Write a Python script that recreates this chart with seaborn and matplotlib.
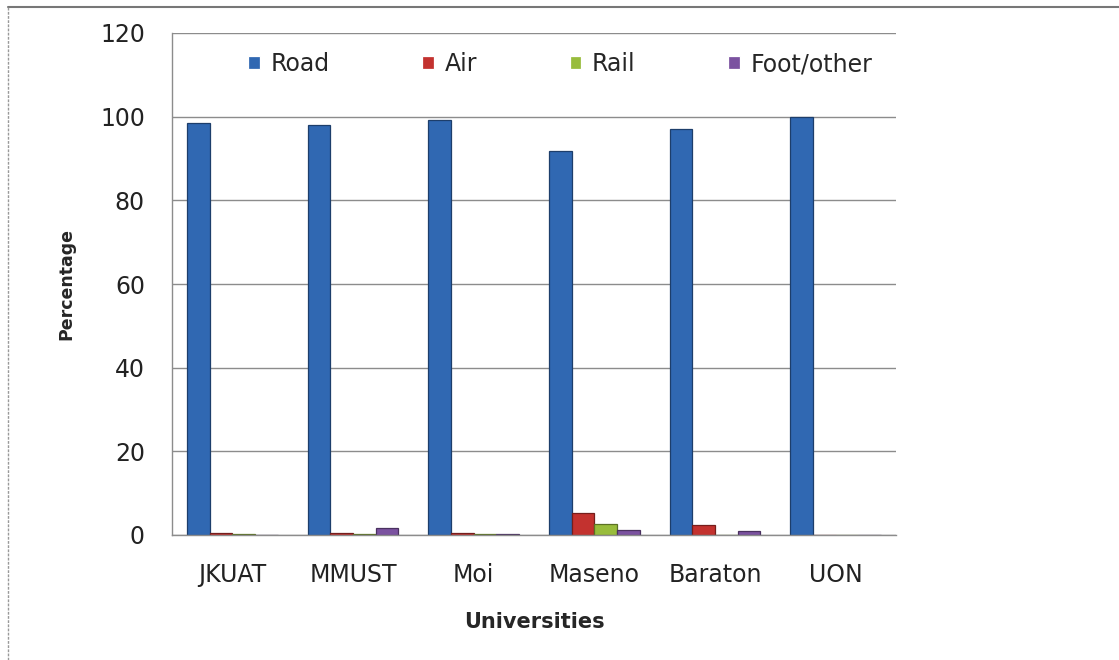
import pandas as pd
import seaborn as sns
import matplotlib.pyplot as plt
from matplotlib.lines import Line2D
import matplotlib.colors as mcolors

universities = ["JKUAT", "MMUST", "Moi", "Maseno", "Baraton", "UON"]
modes = ["Road", "Air", "Rail", "Foot/other"]
road = [98.4, 97.9, 99.2, 91.8, 97.0, 100.0]
air = [0.5, 0.5, 0.5, 5.3, 2.4, 0.0]
rail = [0.3, 0.3, 0.3, 2.7, 0.0, 0.0]
foot = [0.0, 1.7, 0.3, 1.2, 1.0, 0.0]
colors = ["#3068b2", "#c3322f", "#98bc3c", "#7b52a0"]


def setup_style():
    sns.set_theme(style="white")
    plt.rcParams['font.family'] = ['DejaVu Sans']
    plt.rcParams['figure.dpi'] = 100


def plot_transport():
    df = pd.DataFrame({"University": universities, "Road": road, "Air": air,
                       "Rail": rail, "Foot/other": foot})
    df = df.melt(id_vars="University", var_name="Mode", value_name="Percentage")

    setup_style()
    fig = plt.figure(figsize=(11.19, 6.6))
    ax = fig.add_axes([172 / 1119, 1 - 535 / 660, (896 - 172) / 1119, (535 - 33) / 660])
    sns.barplot(data=df, x="University", y="Percentage", hue="Mode", hue_order=modes,
                palette=colors, saturation=1, width=0.75, ax=ax, linewidth=0.9)

    # darker edge per series, roughly like the bevelled Excel bars
    for cont, c in zip(ax.containers, colors):
        dark = tuple(v * 0.6 for v in mcolors.to_rgb(c))
        for p in cont:
            p.set_edgecolor(dark)

    ax.set_ylim(0, 120)
    ax.set_yticks(range(0, 121, 20))
    ax.yaxis.grid(True, color="#8c8c8c", linewidth=1)
    ax.set_axisbelow(True)
    for s in ["top", "right"]:
        ax.spines[s].set_visible(False)
    for s in ["left", "bottom"]:
        ax.spines[s].set_color("#8c8c8c")
        ax.spines[s].set_linewidth(1)
    ax.tick_params(axis="x", labelsize=17, pad=20.5, colors="#222222", length=0)
    ax.tick_params(axis="y", labelsize=17, pad=19.5, colors="#222222", length=0)
    ax.set_xlabel("Universities", fontsize=15, fontweight="bold", labelpad=18)
    ax.set_ylabel("Percentage", fontsize=12.5, fontweight="bold", labelpad=18)

    ax.legend(loc="center left", bbox_to_anchor=((248 - 172) / 724, (535 - 64) / 502),
              ncol=4, frameon=False, fontsize=17, borderpad=0, borderaxespad=0,
              handlelength=0.5, handleheight=0.5, handletextpad=0.45,
              columnspacing=3.92)

    # outer frame lines (top and left only, like the source screenshot)
    fig.add_artist(Line2D([8 / 1119, 1], [1 - 7 / 660, 1 - 7 / 660], color="#777777", lw=1.5))
    fig.add_artist(Line2D([8 / 1119, 8 / 1119], [0, 1 - 7 / 660], color="#999999", lw=1,
                          linestyle=(0, (2, 1))))

    fig.savefig("out.png", dpi=100)
    plt.close()


if __name__ == "__main__":
    plot_transport()
